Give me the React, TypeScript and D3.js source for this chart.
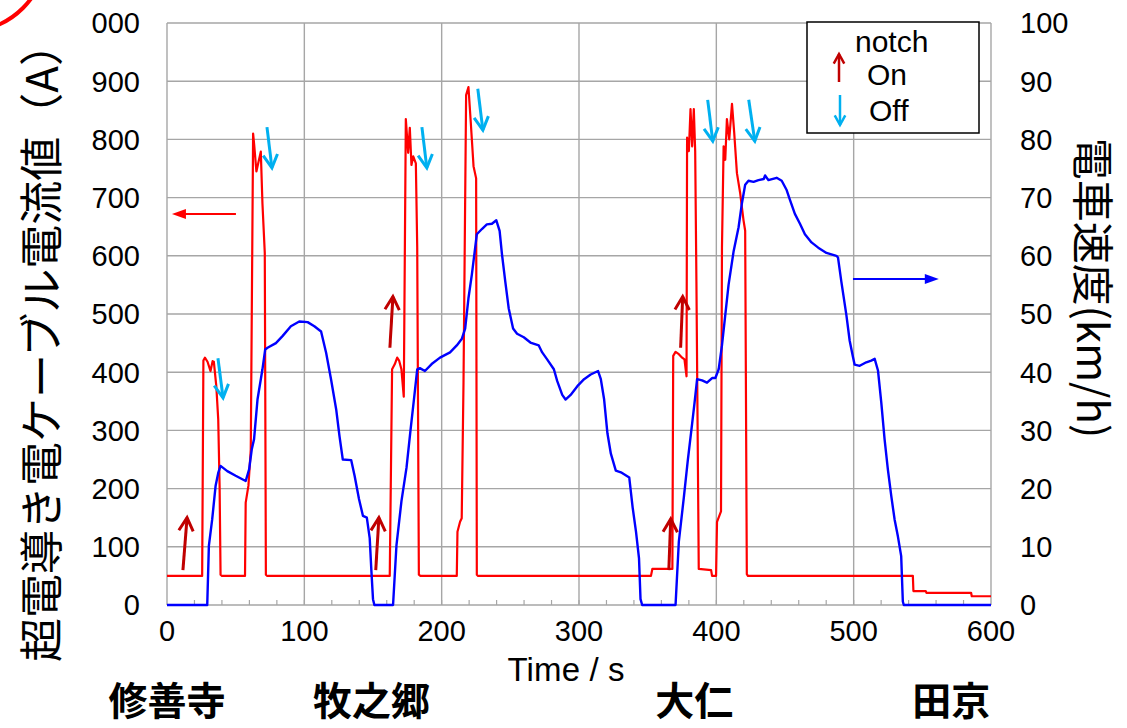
import { useEffect, useRef } from "react"
import * as d3 from "d3"

// current on the superconducting feeder cable (time s, current A)
const currentData: [number, number][] = [
  [0, 50], [25.6, 50], [26.5, 420], [27.6, 425], [29.5, 418], [31.7, 402], [33.2, 419], [34.1, 418],
  [35.9, 376], [37.3, 319], [38.3, 205], [39, 52], [40, 50], [56.8, 50], [57.3, 176], [59.3, 205],
  [61, 267], [62.7, 810], [63.5, 790], [65.1, 745], [66.5, 760], [68.3, 779], [69.5, 690], [71.2, 605],
  [72, 52], [73, 50], [162.2, 50], [163.9, 405], [165.9, 414], [167.6, 425], [169, 420], [170.7, 405],
  [172.4, 358], [173.9, 835], [175.6, 777], [176.8, 820], [178, 756], [179.3, 771], [181.2, 759],
  [182.2, 614], [183.4, 52], [184.5, 50], [211, 50], [211.5, 126], [213.4, 143], [214.6, 149],
  [215.9, 382], [217.8, 876], [219.5, 890], [221.2, 829], [223.2, 754], [225.1, 733], [225.6, 52],
  [226.5, 50], [352.4, 50], [353.4, 62], [368, 62], [368.6, 428], [370.3, 435], [372.7, 431],
  [375.1, 425], [376.8, 422], [378.3, 393], [378.7, 803], [380, 780], [381.2, 852], [382.4, 788],
  [383.6, 852], [384.6, 780], [385.5, 556], [387.2, 62], [396.2, 60], [396.9, 50], [399.8, 50],
  [400.5, 143], [403.4, 161], [404.1, 614], [405.3, 788], [406.5, 765], [407.7, 835], [409.4, 800],
  [411.4, 861], [413, 812], [415, 742], [417.4, 707], [419.8, 661], [421, 643], [422.2, 53], [423, 50],
  [543.1, 50], [543.5, 24], [552.5, 24], [553, 21], [585.5, 21], [586, 15], [600, 15],
]

// train speed (time s, km/h)
const speedData: [number, number][] = [
  [0, 0], [29.3, 0], [30.5, 10.2], [32.9, 14.7], [35.4, 20.5], [37.3, 22.7], [39, 23.9], [43.9, 23],
  [50, 22.2], [57.3, 21.3], [59.8, 23.3], [61.7, 26.7], [63.4, 28.5], [65.9, 35.3], [69.5, 40.5],
  [71.5, 43.9], [73.2, 44.2], [79.3, 45], [84.1, 46.2], [90.2, 47.9], [96.3, 48.7], [102.4, 48.6],
  [107.3, 47.9], [112.2, 47], [115.9, 43.3], [119.5, 38.7], [123.2, 33.6], [125.6, 29], [128, 25],
  [134.1, 24.9], [136.6, 22.2], [139.8, 18.2], [142.7, 15.3], [145.5, 15], [147.6, 11.5], [148.8, 6],
  [150, 1], [151, 0], [164.6, 0], [167.1, 10.3], [170.7, 17.8], [174.4, 23.6], [177.3, 30],
  [179.8, 35.3], [182.2, 40.5], [184.1, 40.7], [187.8, 40.2], [192.7, 41.4], [198.8, 42.5],
  [206.1, 43.4], [211, 44.6], [214.6, 45.7], [217.1, 47.5], [219.5, 52.7], [222, 56.8], [224.4, 61.4],
  [225.6, 63.7], [229.3, 64.6], [232.9, 65.4], [236.6, 65.5], [239.8, 66.1], [242.2, 64.3],
  [243.9, 60.3], [246.3, 55.6], [248.8, 51], [252, 47.5], [254.9, 46.6], [259.8, 46], [264.6, 45.1],
  [270.7, 44.6], [273.2, 43.4], [276.8, 42.2], [281.7, 40.5], [284.1, 38.5], [287.8, 36.1],
  [290.2, 35.3], [293.9, 36.1], [298.8, 37.6], [303.7, 38.8], [308.5, 39.6], [313.9, 40.2],
  [315.9, 38.8], [318.3, 35.3], [320.7, 29.5], [323.2, 26], [326.8, 23.1], [330.5, 22.8],
  [336.6, 21.9], [339.1, 16.7], [341.5, 12.6], [343.7, 8], [344.8, 1], [346, 0], [370.3, 0],
  [372.7, 10.9], [376.3, 18.4], [379.2, 24.8], [382.4, 31.2], [384.1, 34.7], [386, 38.8],
  [389.6, 38.6], [393.2, 38.2], [396.9, 39], [399.3, 39], [401.7, 40.5], [404.1, 44.6], [406.5, 49.8],
  [408.9, 55], [412.6, 60.8], [416.2, 64.9], [418.6, 69], [421, 72.2], [423.4, 72.9], [427.1, 72.7],
  [430.7, 73], [434.5, 73.2], [435.5, 73.8], [437.9, 73], [443.9, 73.4], [447.6, 72.9], [451.2, 71.3],
  [453.6, 69.6], [457.2, 67.2], [460.9, 65.5], [464.5, 63.7], [469.3, 62.3], [474.2, 61.4],
  [480.2, 60.5], [487.4, 60], [488.6, 59.7], [491, 55.6], [494.7, 49.8], [497.1, 45.4], [499.5, 42.6],
  [500.7, 41.3], [504.4, 41.1], [509.2, 41.7], [512.8, 42], [515.3, 42.3], [517.7, 40.3],
  [520.1, 34.8], [522.5, 28.5], [524.9, 23.3], [527.4, 18.7], [529.8, 14.7], [532.2, 11.8],
  [534.6, 8.4], [535.8, 0.6], [536.5, 0], [600, 0],
]

// notch markers: [t0, A0, t1, A1], arrow tip at (t1, A1)
const notchOn: [number, number, number, number][] = [
  [11.6, 60, 14.6, 150], [152, 60, 154.3, 150], [162.3, 442, 164.5, 530],
  [365.4, 60, 366.8, 148], [374, 442, 375.5, 530],
]
const notchOff: [number, number, number, number][] = [
  [37.1, 424, 40.8, 356], [72.8, 821, 76.4, 751], [185.6, 821, 189.2, 751],
  [226.3, 887, 230, 816], [393.7, 868, 397.4, 797], [423.6, 868, 428, 797],
]

const xTicks = [0, 100, 200, 300, 400, 500, 600]
const leftTicks = [0, 100, 200, 300, 400, 500, 600, 700, 800, 900, 1000]
const leftTickLabels = ["0", "100", "200", "300", "400", "500", "600", "700", "800", "900", "000"]
const rightTicks = [0, 10, 20, 30, 40, 50, 60, 70, 80, 90, 100]

const stations = ["修善寺", "牧之郷", "大仁", "田京"]
const stationPos = [0, 149, 384, 571]

const RED = "#ff0000"
const BLUE = "#0000ff"
const ON = "#c00000"
const OFF = "#00b0f0"
const GRID = "#a6a6a6"
const FONT = "'Liberation Sans', Arial, sans-serif"
const JP = "'Noto Sans CJK JP', sans-serif"

const App = () => {
  const svgRef = useRef<SVGSVGElement>(null)

  useEffect(() => {
    document.body.style.margin = "0"
    const svg = d3.select(svgRef.current)
    svg.selectAll("*").remove()

    const x = d3.scaleLinear().domain([0, 600]).range([167, 991])
    const yA = d3.scaleLinear().domain([0, 1000]).range([605, 23])
    const yV = d3.scaleLinear().domain([0, 100]).range([605, 23])

    // red circle remnant in the corner
    svg.append("circle").attr("cx", -35).attr("cy", -50).attr("r", 82)
      .attr("fill", "none").attr("stroke", RED).attr("stroke-width", 4)

    // grid
    const grid = svg.append("g")
    grid.selectAll("line.h").data(leftTicks).join("line")
      .attr("x1", x(0)).attr("x2", x(600)).attr("y1", (d) => yA(d)).attr("y2", (d) => yA(d))
      .attr("stroke", GRID).attr("stroke-width", 1.4)
    grid.selectAll("line.v").data(xTicks).join("line")
      .attr("class", "v")
      .attr("x1", (d) => x(d)).attr("x2", (d) => x(d)).attr("y1", yA(0)).attr("y2", yA(1000))
      .attr("stroke", GRID).attr("stroke-width", 1.4)
    // minor ticks every 20 s
    grid.selectAll("line.m").data(d3.range(20, 600, 20)).join("line")
      .attr("class", "m")
      .attr("x1", (d) => x(d)).attr("x2", (d) => x(d)).attr("y1", yA(0)).attr("y2", yA(0) - 5)
      .attr("stroke", GRID).attr("stroke-width", 1.2)

    // series
    const lineA = d3.line<[number, number]>().x((d) => x(d[0])).y((d) => yA(d[1]))
    const lineV = d3.line<[number, number]>().x((d) => x(d[0])).y((d) => yV(d[1]))
    svg.append("path").datum(currentData).attr("d", lineA)
      .attr("fill", "none").attr("stroke", RED).attr("stroke-width", 2.2).attr("stroke-linejoin", "round")
    svg.append("path").datum(speedData).attr("d", lineV)
      .attr("fill", "none").attr("stroke", BLUE).attr("stroke-width", 2.4).attr("stroke-linejoin", "round")

    // notch arrows (open chevron heads)
    const drawArrow = (g, x0, y0, x1, y1, color, w, head) => {
      const ang = Math.atan2(y1 - y0, x1 - x0)
      g.append("line").attr("x1", x0).attr("y1", y0).attr("x2", x1).attr("y2", y1)
        .attr("stroke", color).attr("stroke-width", w)
      const a1 = ang + Math.PI - 0.5
      const a2 = ang + Math.PI + 0.5
      g.append("path")
        .attr("d", `M${x1 + head * Math.cos(a1)},${y1 + head * Math.sin(a1)}L${x1},${y1}L${x1 + head * Math.cos(a2)},${y1 + head * Math.sin(a2)}`)
        .attr("fill", "none").attr("stroke", color).attr("stroke-width", w)
    }
    const arrows = svg.append("g")
    notchOn.forEach((d) => drawArrow(arrows, x(d[0]), yA(d[1]), x(d[2]), yA(d[3]), ON, 3, 15))
    notchOff.forEach((d) => drawArrow(arrows, x(d[0]), yA(d[1]), x(d[2]), yA(d[3]), OFF, 3, 15))

    // axis pointers
    const filledArrow = (x0, x1, y, color) => {
      const dir = Math.sign(x1 - x0)
      svg.append("line").attr("x1", x0).attr("x2", x1 - dir * 10).attr("y1", y).attr("y2", y)
        .attr("stroke", color).attr("stroke-width", 2)
      svg.append("path").attr("d", `M${x1},${y}L${x1 - dir * 14},${y - 5}L${x1 - dir * 14},${y + 5}Z`)
        .attr("fill", color)
    }
    filledArrow(x(50.2), x(3.6), yA(672), RED)
    filledArrow(x(499.5), x(562), yV(56), BLUE)

    // tick labels
    svg.append("g").selectAll("text").data(leftTicks).join("text")
      .attr("x", 140).attr("y", (d) => yA(d)).attr("dy", "0.36em")
      .attr("text-anchor", "end").style("font-family", FONT).style("font-size", "29px")
      .text((d, i) => leftTickLabels[i])
    svg.append("g").selectAll("text").data(rightTicks).join("text")
      .attr("x", 1020).attr("y", (d) => yV(d)).attr("dy", "0.36em")
      .style("font-family", FONT).style("font-size", "29px")
      .text((d) => d)
    svg.append("g").selectAll("text").data(xTicks).join("text")
      .attr("x", (d) => x(d)).attr("y", 641).attr("text-anchor", "middle")
      .style("font-family", FONT).style("font-size", "29px")
      .text((d) => d)

    // titles
    svg.append("text").attr("x", 566).attr("y", 681).attr("text-anchor", "middle")
      .style("font-family", FONT).style("font-size", "33px").attr("textLength", 117)
      .text("Time / s")
    svg.append("text").attr("transform", "translate(58,342) rotate(-90)").attr("text-anchor", "middle")
      .style("font-family", JP).style("font-size", "44px").text("超電導き電ケーブル電流値（A）")
    svg.append("text").attr("transform", "translate(1077,288) rotate(90)").attr("text-anchor", "middle")
      .style("font-family", JP).style("font-size", "42px").text("電車速度(km/h)")

    // stations
    svg.append("g").selectAll("text").data(stations).join("text")
      .attr("x", (d, i) => x(stationPos[i])).attr("y", 715).attr("text-anchor", "middle")
      .style("font-family", JP).style("font-size", "39px").style("font-weight", "bold")
      .text((d) => d)

    // legend
    const lg = svg.append("g")
    lg.append("rect").attr("x", 807).attr("y", 22).attr("width", 172).attr("height", 111)
      .attr("fill", "white").attr("stroke", "black").attr("stroke-width", 1.5)
    lg.append("text").attr("x", 855).attr("y", 52).style("font-family", FONT).style("font-size", "30px").text("notch")
    lg.append("text").attr("x", 867).attr("y", 85).style("font-family", FONT).style("font-size", "30px").text("On")
    lg.append("text").attr("x", 869).attr("y", 121).style("font-family", FONT).style("font-size", "30px").text("Off")
    drawArrow(lg, 839, 82, 839, 54, ON, 2.5, 11)
    drawArrow(lg, 840, 95, 840, 125, OFF, 2.5, 11)
  }, [])

  return <svg ref={svgRef} width={1127} height={728} style={{ display: "block", background: "white" }}></svg>
}

export default App
